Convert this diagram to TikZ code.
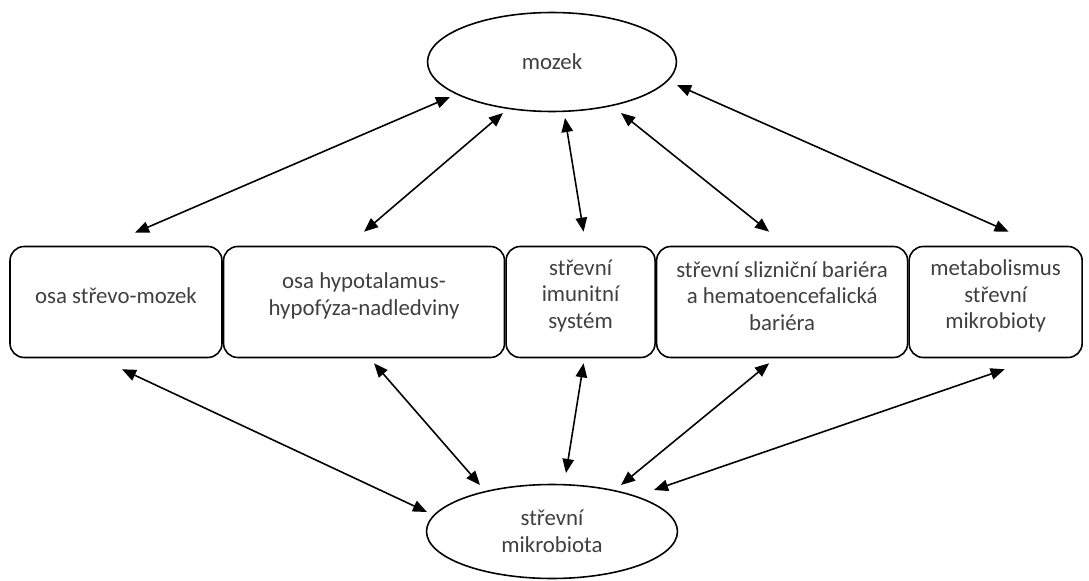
\documentclass[tikz,border=0pt]{standalone}
\usepackage{fontspec}
\setmainfont{Carlito}
\usetikzlibrary{arrows.meta, positioning, calc, shapes.geometric}
\definecolor{nink}{HTML}{3F3F3F}

% a stage box: #1 name, #2 placement, #3 width, #4 text (set a little above centre)
\newcommand{\stagebox}[4]{%
  \node[stage, minimum width=#3, #2] (#1) {};
  \node[stagetext] at ($(#1.center)+(0,-6)$) {#4};%
}

\begin{document}
\begin{tikzpicture}[
  x=0.02cm, y=-0.02cm,
  font=\fontsize{13}{15.1}\selectfont,
  >={Triangle[length=8pt, width=6.5pt]},
  organ/.style     = {ellipse, draw, line width=0.9pt, text=nink, align=center},
  stage/.style     = {draw, line width=0.9pt, rounded corners=8pt,
                      minimum height=2.22cm, inner sep=0pt},
  stagetext/.style = {text=nink, align=center, inner sep=0pt},
  link/.style      = {<->, line width=0.9pt},
]
\useasboundingbox (0,0) rectangle (1089,581);

% the two ends
\node[organ, minimum width=4.98cm, minimum height=1.98cm] (mozek) at (552,62) {mozek};
\node[organ, minimum width=5.02cm, minimum height=1.88cm] (mikro) at (552,531.5)
     {střevní\\mikrobiota};

% ============================ row of pathways ===============================
\stagebox{osa}{at={(116,302)}}{4.24cm}{osa střevo-mozek}
\stagebox{hpa}{right=0pt of osa}{5.62cm}{osa hypotalamus-\\hypofýza-nadledviny}
\stagebox{imun}{right=0pt of hpa}{2.98cm}{střevní\\imunitní\\systém}
\stagebox{bar}{right=0pt of imun}{5.02cm}{střevní slizniční bariéra\\a hematoencefalická\\bariéra}
\stagebox{meta}{right=0pt of bar}{3.46cm}{metabolismus\\střevní\\mikrobioty}

% ============================ links to the brain ============================
\draw[link] ($(osa.north)+(19,-13)$)  -- ($(mozek)+(-102,35)$);
\draw[link] ($(hpa.north)+(0,-14)$)   -- ($(mozek)+(-49,51)$);
\draw[link] ($(imun.north)+(3,-14)$)  -- ($(mozek)+(13,56)$);
\draw[link] ($(bar.north)+(-13,-14)$) -- ($(mozek)+(69,51)$);
\draw[link] ($(meta.north)+(13,-14)$) -- ($(mozek)+(125,23)$);

% ============================ links to the microbiota =======================
\draw[link] ($(osa.south)+(6,11)$)   -- ($(mikro)+(-125,-19.5)$);
\draw[link] ($(hpa.south)+(10,5)$)   -- ($(mikro)+(-72,-46.5)$);
\draw[link] ($(imun.south)+(3,5)$)   -- ($(mikro)+(14,-58.5)$);
\draw[link] ($(bar.south)+(-13,5)$)  -- ($(mikro)+(69,-46.5)$);
\draw[link] ($(meta.south)+(9,11)$)  -- ($(mikro)+(102,-41.5)$);

\end{tikzpicture}
\end{document}
